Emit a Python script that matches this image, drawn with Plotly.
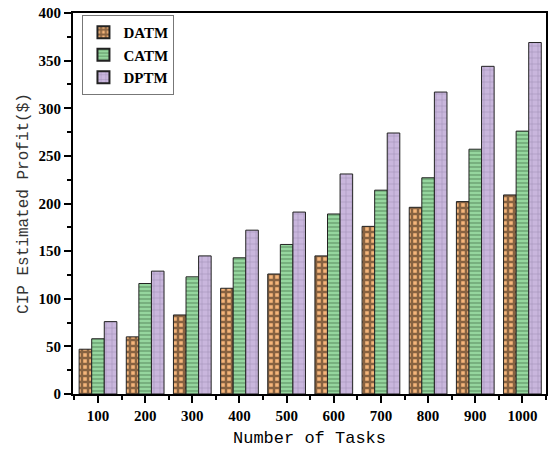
import plotly.graph_objects as go

tasks = ["100", "200", "300", "400", "500", "600", "700", "800", "900", "1000"]
datm = [47, 60, 83, 111, 126, 145, 176, 196, 202, 209]
catm = [58, 116, 123, 143, 157, 189, 214, 227, 257, 276]
dptm = [76, 129, 145, 172, 191, 231, 274, 317, 344, 369]
yticks = [0, 50, 100, 150, 200, 250, 300, 350, 400]

xpos = list(range(1, len(tasks) + 1))

fig = go.Figure()
fig.add_trace(go.Bar(
    x=xpos, y=datm, name="<b>DATM</b>",
    marker=dict(color="#f5b57a", line=dict(color="#222222", width=1),
                pattern=dict(shape="+", fgcolor="#1a1008", bgcolor="#f5b57a",
                             size=6, solidity=0.65, fillmode="overlay")),
))
fig.add_trace(go.Bar(
    x=xpos, y=catm, name="<b>CATM</b>",
    marker=dict(color="#95d69e", line=dict(color="#222222", width=1),
                pattern=dict(shape="-", fgcolor="#2f5a35", bgcolor="#95d69e",
                             size=4, solidity=0.3, fillmode="overlay")),
))
fig.add_trace(go.Bar(
    x=xpos, y=dptm, name="<b>DPTM</b>",
    marker=dict(color="#c9b6dd", line=dict(color="#222222", width=1),
                pattern=dict(shape="+", fgcolor="#6a5a80", bgcolor="#c9b6dd",
                             size=6, solidity=0.15, fillmode="overlay")),
))

tickfont = dict(family="Liberation Serif", size=15, color="black")

fig.update_layout(
    width=553, height=452,
    margin=dict(l=73, r=5, t=10, b=58),
    plot_bgcolor="white", paper_bgcolor="white",
    barmode="group", bargap=0.2, bargroupgap=0.0,
    legend=dict(x=0.02, y=0.995, xanchor="left", yanchor="top",
                bgcolor="white", bordercolor="#777777", borderwidth=1,
                font=dict(family="Liberation Serif", size=15, color="black"),
                tracegroupgap=0, itemsizing="constant"),
    xaxis=dict(
        tickmode="array", tickvals=xpos, ticktext=["<b>%s</b>" % t for t in tasks],
        range=[0.47, 10.5], showline=True, linecolor="black", linewidth=2,
        mirror=True, ticks="outside", ticklen=7, tickwidth=1.5, tickcolor="black",
        showgrid=False, zeroline=False, tickfont=tickfont,
        minor=dict(tickmode="array", tickvals=[i + 0.5 for i in range(0, 11)],
                   ticks="outside", ticklen=4, tickcolor="black", tickwidth=1.5),
        title=dict(text="Number of Tasks", standoff=8,
                   font=dict(family="Liberation Mono", size=17, color="black")),
    ),
    yaxis=dict(
        tickmode="array", tickvals=yticks, ticktext=["<b>%d</b>" % v for v in yticks],
        range=[0, 400], showline=True, linecolor="black", linewidth=2,
        mirror=True, ticks="outside", ticklen=7, tickwidth=1.5, tickcolor="black",
        showgrid=False, zeroline=False, tickfont=tickfont,
        minor=dict(dtick=25, ticks="outside", ticklen=4, tickcolor="black", tickwidth=1.5),
        title=dict(text="CIP Estimated Profit($)", standoff=6,
                   font=dict(family="Liberation Mono", size=16, color="#333333")),
    ),
)

fig.write_html("out.html")
